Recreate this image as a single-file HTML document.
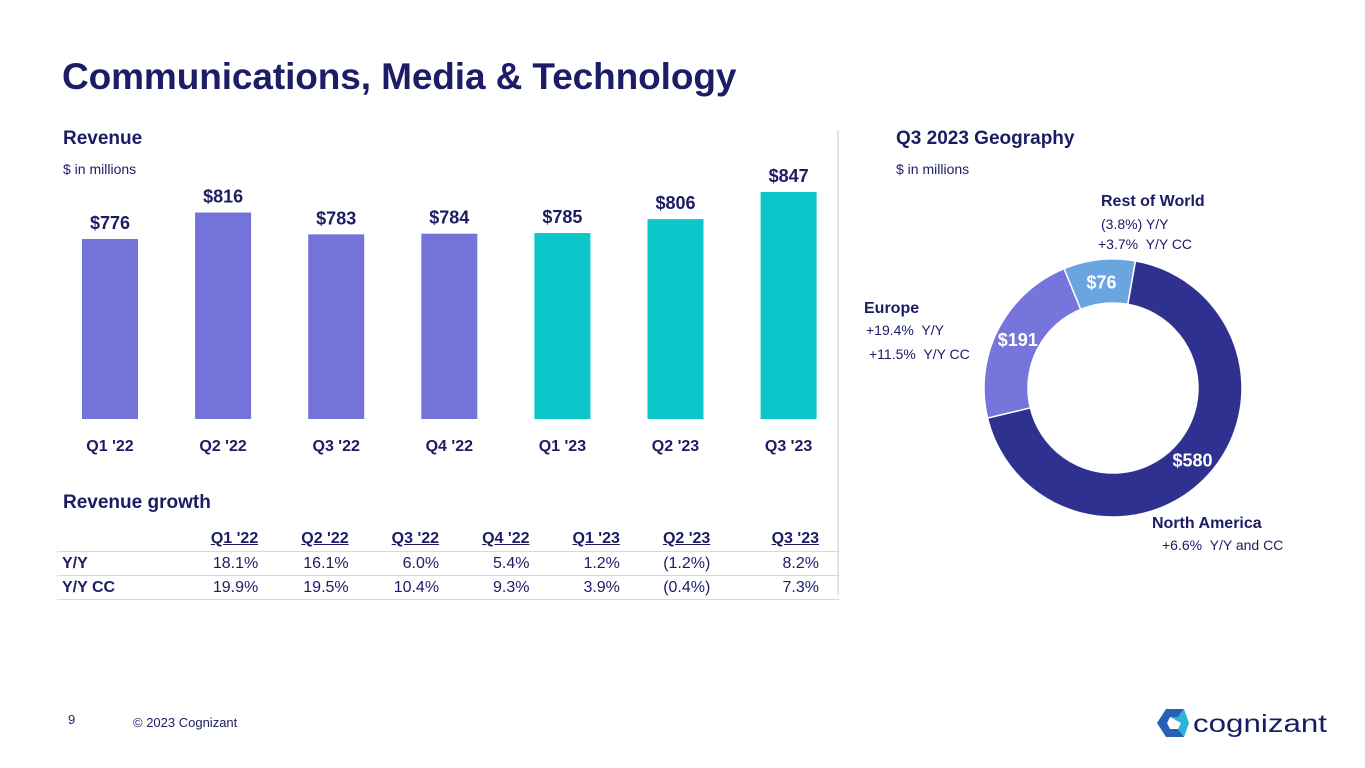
<!DOCTYPE html>
<html><head><meta charset="utf-8">
<style>
body{margin:0;width:1365px;height:768px;background:#fff;font-family:"Liberation Sans",sans-serif;color:#1b1c64;overflow:hidden;position:relative}
.a{position:absolute;white-space:nowrap}
.b{font-weight:bold}
table{border-collapse:collapse;position:absolute;left:57px;top:527px;width:782px;font-size:16px}
td{text-align:right;padding:0 0;height:23px}
tr.h td{font-weight:bold;text-decoration:underline;height:24px}
tr.r td{border-top:1px solid #d8d8d8}
tr.r:last-child td{border-bottom:1px solid #d8d8d8}
td.l{text-align:left;font-weight:bold;padding-left:5px}
</style></head><body>
<div class="a b" style="left:62px;top:56px;font-size:37px;color:#1c1d66;letter-spacing:-0.1px">Communications, Media &amp; Technology</div>
<div class="a b" style="left:63px;top:128px;font-size:19px">Revenue</div>
<div class="a" style="left:63px;top:161px;font-size:14px">$ in millions</div>
<div class="a b" style="left:896px;top:128px;font-size:19px">Q3 2023 Geography</div>
<div class="a" style="left:896px;top:161px;font-size:14px">$ in millions</div>
<div class="a" style="left:837px;top:130px;width:2px;height:465px;background:#e4e4e4"></div>
<svg class="a" id="bars" style="left:0;top:0" width="840" height="470"></svg>
<div class="a b" style="left:63px;top:492px;font-size:19px">Revenue growth</div>
<table>
<tr class="h"><td></td><td>Q1 '22</td><td>Q2 '22</td><td>Q3 '22</td><td>Q4 '22</td><td>Q1 '23</td><td>Q2 '23</td><td style="padding-right:20px">Q3 '23</td></tr>
<tr class="r"><td class="l">Y/Y</td><td>18.1%</td><td>16.1%</td><td>6.0%</td><td>5.4%</td><td>1.2%</td><td>(1.2%)</td><td style="padding-right:20px">8.2%</td></tr>
<tr class="r"><td class="l">Y/Y CC</td><td>19.9%</td><td>19.5%</td><td>10.4%</td><td>9.3%</td><td>3.9%</td><td>(0.4%)</td><td style="padding-right:20px">7.3%</td></tr>
</table>
<svg class="a" id="donut" style="left:960px;top:250px" width="310" height="300"></svg>
<div class="a b" style="left:1101px;top:193px;font-size:16px">Rest of World</div>
<div class="a" style="left:1101px;top:216px;font-size:14px">(3.8%) Y/Y</div>
<div class="a" style="left:1098px;top:236px;font-size:14px">+3.7%&nbsp; Y/Y CC</div>
<div class="a b" style="left:864px;top:300px;font-size:16px">Europe</div>
<div class="a" style="left:866px;top:322px;font-size:14px">+19.4%&nbsp; Y/Y</div>
<div class="a" style="left:869px;top:346px;font-size:14px">+11.5%&nbsp; Y/Y CC</div>
<div class="a b" style="left:1152px;top:515px;font-size:16px">North America</div>
<div class="a" style="left:1162px;top:537px;font-size:14px">+6.6%&nbsp; Y/Y and CC</div>
<div class="a" style="left:68px;top:712px;font-size:13px">9</div>
<div class="a" style="left:133px;top:715px;font-size:13px">© 2023 Cognizant</div>
<svg class="a" style="left:1155px;top:705px" width="180" height="36">
<polygon points="2,18 11,4 29,4 23,12 15,12 12,18 15,24 23,24 29,32 11,32" fill="#2a5fb8"/>
<polygon points="15,12 23,12 29,4 34,18 29,32 23,24 26,18" fill="#2ab5d8"/>
<text x="38" y="27" font-size="25" fill="#1b1c64" font-family="Liberation Sans,sans-serif" textLength="134" lengthAdjust="spacingAndGlyphs">cognizant</text>
</svg>
<script>
const cats=["Q1 '22","Q2 '22","Q3 '22","Q4 '22","Q1 '23","Q2 '23","Q3 '23"];
const vals=[776,816,783,784,785,806,847];
const labels=["$776","$816","$783","$784","$785","$806","$847"];
const geoNames=["North America","Europe","Rest of World"];
const geoVals=[580,191,76];
const geoLabels=["$580","$191","$76"];
const NS="http://www.w3.org/2000/svg";
function mk(p,t,a){const e=document.createElementNS(NS,t);for(const k in a)e.setAttribute(k,a[k]);p.appendChild(e);return e;}
const bs=document.getElementById('bars');
const y0=419,vmin=504,sc=227/(847-504);
const x=i=>110+i*113.1;
const y=v=>y0-(v-vmin)*sc;
cats.forEach((c,i)=>{
 const r=mk(bs,'rect',{x:x(i)-28,y:y(vals[i]),width:56,height:y0-y(vals[i]),fill:i<4?'#7473d9':'#0bc7ca'});
 
 
 const t=mk(bs,'text',{x:x(i),y:y(vals[i])-10,'text-anchor':'middle','font-size':18,'font-weight':'bold',fill:'#1b1c64'});t.textContent=labels[i];
 
 
 const l=mk(bs,'text',{x:x(i),y:451,'text-anchor':'middle','font-size':16,'font-weight':'bold',fill:'#1b1c64'});l.textContent=c;
 
 
});
const ds=document.getElementById('donut');
const cx=153,cy=138,R=129,r0=85,cols=['#2e3190','#7575dc','#6aa5e0'];
const tot=geoVals.reduce((a,b)=>a+b,0);
let a0=10;
const pt=(a,rr)=>[cx+rr*Math.sin(a*Math.PI/180),cy-rr*Math.cos(a*Math.PI/180)];
geoVals.forEach((v,i)=>{
 const a1=a0+v/tot*360,lg=(a1-a0)>180?1:0;
 const p1=pt(a0,R),p2=pt(a1,R),p3=pt(a1,r0),p4=pt(a0,r0);
 const p=mk(ds,'path',{d:`M${p1}A${R},${R} 0 ${lg} 1 ${p2}L${p3}A${r0},${r0} 0 ${lg} 0 ${p4}Z`,fill:cols[i],stroke:'#fff','stroke-width':1.5});
 
 
 const m=(a0+a1)/2;
 let lp=pt(i==0?132:m,(R+r0)/2);
 const t=mk(ds,'text',{x:lp[0],y:lp[1]+7,'text-anchor':'middle','font-size':18,'font-weight':'bold',fill:'#fff'});t.textContent=geoLabels[i];
 
 
 a0=a1;
});
</script>
</body></html>
